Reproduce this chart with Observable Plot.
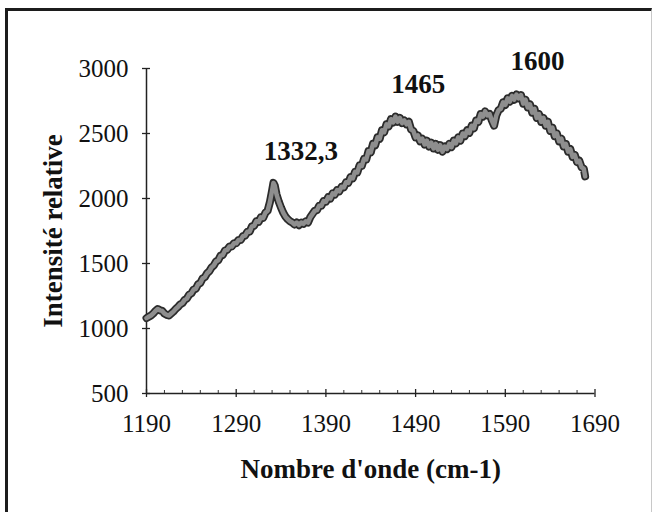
<!DOCTYPE html>
<html><head><meta charset="utf-8">
<script src="https://cdn.jsdelivr.net/npm/d3@7"></script>
<script src="https://cdn.jsdelivr.net/npm/@observablehq/plot@0.6"></script>
<style>
html,body{margin:0;padding:0;background:#fff;}
#wrap{position:relative;width:654px;height:512px;overflow:hidden;background:#fff;}
#frame{position:absolute;left:5px;top:8px;width:643px;height:540px;border-left:3px solid #1c1c1c;border-top:3px solid #1c1c1c;border-right:1px solid #c8c8c8;}
#chart{position:absolute;left:0;top:0;}
</style></head><body>
<div id="wrap"><div id="frame"></div><div id="chart"></div></div>
<script>
// Raman spectrum (noisy trace)
const wavenumber = [1190,1192.5,1195,1197.5,1200,1202.5,1205,1207.5,1210,1212.5,1215,1217.5,1220,1222.5,1225,1227.5,1230,1232.5,1235,1237.5,1240,1242.5,1245,1247.5,1250,1252.5,1255,1257.5,1260,1262.5,1265,1267.5,1270,1272.5,1275,1277.5,1280,1282.5,1285,1287.5,1290,1292.5,1295,1297.5,1300,1302.5,1305,1307.5,1310,1312.5,1315,1317.5,1320,1322.5,1325,1327.5,1330,1331.5,1333,1335,1337.5,1340,1342.5,1345,1347.5,1350,1352.5,1355,1357.5,1360,1362.5,1365,1367.5,1370,1372.5,1375,1377.5,1380,1382.5,1385,1387.5,1390,1392.5,1395,1397.5,1400,1402.5,1405,1407.5,1410,1412.5,1415,1417.5,1420,1422.5,1425,1427.5,1430,1432.5,1435,1437.5,1440,1442.5,1445,1447.5,1450,1452.5,1455,1457.5,1460,1462.5,1465,1467.5,1470,1472.5,1475,1477.5,1480,1482.5,1485,1487.5,1490,1492.5,1495,1497.5,1500,1502.5,1505,1507.5,1510,1512.5,1515,1517.5,1520,1522.5,1525,1527.5,1530,1532.5,1535,1537.5,1540,1542.5,1545,1547.5,1550,1552.5,1555,1557.5,1560,1562.5,1565,1567.5,1570,1572.5,1575,1577.5,1580,1582.5,1585,1587.5,1590,1592.5,1595,1597.5,1600,1602.5,1605,1607.5,1610,1612.5,1615,1617.5,1620,1622.5,1625,1627.5,1630,1632.5,1635,1637.5,1640,1642.5,1645,1647.5,1650,1652.5,1655,1657.5,1660,1662.5,1665,1667.5,1670,1672.5,1675,1677.5,1679];
const intensity  = [1080,1090,1100,1115,1135,1150,1140,1135,1115,1105,1100,1115,1130,1150,1165,1185,1195,1220,1230,1260,1270,1300,1305,1340,1350,1385,1395,1425,1440,1470,1485,1515,1525,1560,1565,1600,1605,1630,1630,1655,1655,1680,1680,1710,1715,1745,1745,1785,1790,1825,1820,1855,1850,1890,1905,1970,2060,2120,2100,2030,1975,1930,1890,1860,1840,1825,1815,1800,1815,1795,1815,1805,1825,1815,1855,1880,1905,1910,1945,1945,1980,1975,2010,2000,2040,2030,2065,2055,2090,2085,2125,2120,2165,2155,2205,2200,2255,2250,2305,2300,2365,2355,2420,2410,2470,2460,2525,2510,2570,2555,2610,2585,2630,2590,2620,2580,2600,2570,2590,2530,2520,2470,2485,2440,2460,2415,2445,2400,2430,2385,2420,2375,2410,2360,2400,2380,2420,2395,2445,2425,2470,2445,2500,2480,2525,2505,2560,2540,2600,2590,2650,2630,2670,2640,2650,2600,2560,2640,2680,2690,2740,2720,2770,2745,2790,2760,2800,2770,2795,2730,2760,2700,2725,2660,2690,2620,2650,2590,2620,2560,2590,2520,2545,2480,2500,2440,2460,2400,2420,2360,2380,2320,2335,2280,2290,2240,2230,2170];

const xTicks = [1190,1290,1390,1490,1590,1690];
const xMinorTicks = [1210,1230,1250,1270,1310,1330,1350,1370,1410,1430,1450,1470,1510,1530,1550,1570,1610,1630,1650,1670];
const yTicks = [500,1000,1500,2000,2500,3000];

const peakLabels = ["1332,3","1465","1600"];
const peakLabelX = [1362,1493,1626];
const peakLabelY = [2362,2877,3054];

const xTitle = "Nombre d'onde (cm-1)";
const yTitle = "Intensité relative";

const spectrum = wavenumber.map((x,i)=>({x, y:intensity[i]}));
const peaks = peakLabels.map((t,i)=>({t, x:peakLabelX[i], y:peakLabelY[i]}));

const plot = Plot.plot({
  width:654, height:512,
  marginLeft:146, marginRight:59.5, marginTop:68, marginBottom:119,
  x:{domain:[1190,1690]},
  y:{domain:[500,3000]},
  style:{fontFamily:"'Liberation Serif','Times New Roman',serif", fontSize:"25px", color:"#111", background:"transparent", overflow:"visible"},
  marks:[
    Plot.axisX({ticks:xTicks, tickSize:0, tickPadding:21, tickFormat:d=>String(d), label:null}),
    Plot.axisY({ticks:yTicks, tickSize:0, tickPadding:18, tickFormat:d=>String(d), label:null}),
    Plot.ruleY([500],{stroke:"#222", strokeWidth:1.5}),
    Plot.ruleX([1190],{stroke:"#222", strokeWidth:1.5}),
    Plot.ruleX(xTicks,{x:d=>d, y1:500, y2:500, insetTop:-4, insetBottom:-4, stroke:"#222", strokeWidth:1.3}),
    Plot.ruleX(xMinorTicks,{x:d=>d, y1:500, y2:500, insetTop:-3, insetBottom:0, stroke:"#333", strokeWidth:1}),
    Plot.ruleY(yTicks,{y:d=>d, x1:1190, x2:1190, insetLeft:-4, insetRight:-4, stroke:"#222", strokeWidth:1.3}),
    Plot.line(spectrum,{x:"x", y:"y", stroke:"#2b2b2b", strokeWidth:8, strokeLinejoin:"round", strokeLinecap:"round"}),
    Plot.line(spectrum,{x:"x", y:"y", stroke:"#8e8e8e", strokeWidth:4.5, strokeLinejoin:"round"}),
    Plot.text(peaks,{x:"x", y:"y", text:"t", fontSize:27, fontWeight:"bold", fill:"#111"}),
    Plot.text([yTitle],{text:d=>d, frameAnchor:"left", dx:-93, rotate:-90, textAnchor:"middle", fontSize:27, fontWeight:"bold", fill:"#111"}),
    Plot.text([xTitle],{text:d=>d, frameAnchor:"bottom", dy:84, fontSize:27, fontWeight:"bold", fill:"#111"})
  ]
});
document.getElementById("chart").appendChild(plot);
</script>
</body></html>
